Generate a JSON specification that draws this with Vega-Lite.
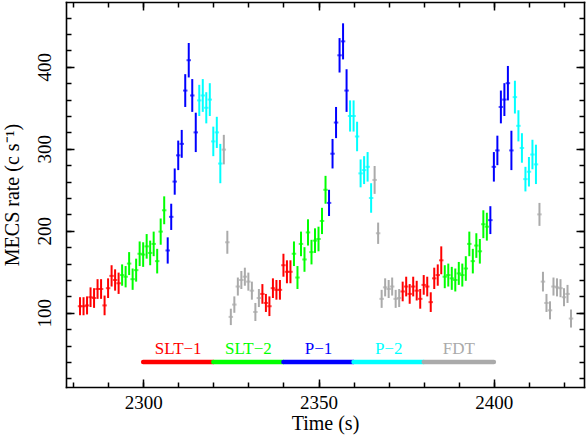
{
  "$schema": "https://vega.github.io/schema/vega-lite/v6.json",
  "width": 518,
  "height": 385,
  "autosize": {"type": "none"},
  "padding": {"left": 66, "top": 2, "right": 3, "bottom": 49},
  "config": {
    "view": {"stroke": null},
    "font": "Liberation Serif",
    "axis": {
      "grid": false,
      "domainColor": "black",
      "tickColor": "black",
      "labelColor": "black",
      "titleColor": "black",
      "labelFont": "Liberation Serif",
      "titleFont": "Liberation Serif",
      "titleFontWeight": "normal",
      "domainWidth": 1.6,
      "domainCap": "square",
      "tickWidth": 1.5,
      "labelOverlap": false,
      "labelFlush": false
    }
  },
  "datasets": {
    "pts": [
      {"t": 2282, "r": 108, "e": 11, "p": "SLT-1"}, {"t": 2283, "r": 108, "e": 11, "p": "SLT-1"}, {"t": 2284, "r": 109, "e": 11, "p": "SLT-1"},
      {"t": 2285, "r": 119, "e": 12, "p": "SLT-1"}, {"t": 2286, "r": 118, "e": 12, "p": "SLT-1"}, {"t": 2287, "r": 129, "e": 12, "p": "SLT-1"},
      {"t": 2288, "r": 129, "e": 12, "p": "SLT-1"}, {"t": 2289, "r": 109, "e": 12, "p": "SLT-1"}, {"t": 2290, "r": 130, "e": 12, "p": "SLT-1"},
      {"t": 2291, "r": 145, "e": 13, "p": "SLT-1"}, {"t": 2292, "r": 140, "e": 13, "p": "SLT-1"}, {"t": 2293, "r": 136, "e": 13, "p": "SLT-1"},
      {"t": 2294, "r": 146, "e": 13, "p": "SLT-2"}, {"t": 2295, "r": 144, "e": 13, "p": "SLT-2"}, {"t": 2296, "r": 160, "e": 14, "p": "SLT-2"},
      {"t": 2297, "r": 141, "e": 13, "p": "SLT-2"}, {"t": 2298, "r": 152, "e": 14, "p": "SLT-2"}, {"t": 2299, "r": 172, "e": 15, "p": "SLT-2"},
      {"t": 2300, "r": 171, "e": 15, "p": "SLT-2"}, {"t": 2301, "r": 181, "e": 15, "p": "SLT-2"}, {"t": 2302, "r": 173, "e": 15, "p": "SLT-2"},
      {"t": 2303, "r": 184, "e": 15, "p": "SLT-2"}, {"t": 2304, "r": 163, "e": 15, "p": "SLT-2"}, {"t": 2305, "r": 199, "e": 16, "p": "SLT-2"},
      {"t": 2306, "r": 225, "e": 17, "p": "SLT-2"},
      {"t": 2307, "r": 176, "e": 16, "p": "P-1"}, {"t": 2308, "r": 217, "e": 16, "p": "P-1"}, {"t": 2309, "r": 260, "e": 16, "p": "P-1"},
      {"t": 2310, "r": 292, "e": 18, "p": "P-1"}, {"t": 2311, "r": 306, "e": 17, "p": "P-1"}, {"t": 2312, "r": 371, "e": 20, "p": "P-1"},
      {"t": 2313, "r": 408, "e": 21, "p": "P-1"}, {"t": 2314, "r": 365, "e": 20, "p": "P-1"}, {"t": 2315, "r": 320, "e": 24, "p": "P-1"},
      {"t": 2316, "r": 359, "e": 19, "p": "P-2"}, {"t": 2317, "r": 365, "e": 20, "p": "P-2"}, {"t": 2318, "r": 350, "e": 19, "p": "P-2"},
      {"t": 2319, "r": 360, "e": 20, "p": "P-2"}, {"t": 2320, "r": 309, "e": 18, "p": "P-2"}, {"t": 2321, "r": 320, "e": 19, "p": "P-2"},
      {"t": 2322, "r": 282, "e": 24, "p": "P-2"},
      {"t": 2323, "r": 299, "e": 18, "p": "FDT"}, {"t": 2324, "r": 186, "e": 14, "p": "FDT"}, {"t": 2325, "r": 95, "e": 10, "p": "FDT"},
      {"t": 2326, "r": 110, "e": 10, "p": "FDT"}, {"t": 2327, "r": 132, "e": 11, "p": "FDT"}, {"t": 2328, "r": 140, "e": 11, "p": "FDT"},
      {"t": 2329, "r": 144, "e": 11, "p": "FDT"}, {"t": 2330, "r": 138, "e": 11, "p": "FDT"}, {"t": 2331, "r": 127, "e": 11, "p": "FDT"},
      {"t": 2332, "r": 101, "e": 11, "p": "FDT"}, {"t": 2333, "r": 118, "e": 11, "p": "FDT"},
      {"t": 2334, "r": 123, "e": 12, "p": "SLT-1"}, {"t": 2335, "r": 112, "e": 11, "p": "SLT-1"}, {"t": 2336, "r": 108, "e": 12, "p": "SLT-1"},
      {"t": 2337, "r": 130, "e": 12, "p": "SLT-1"}, {"t": 2338, "r": 128, "e": 12, "p": "SLT-1"}, {"t": 2339, "r": 128, "e": 12, "p": "SLT-1"},
      {"t": 2340, "r": 158, "e": 14, "p": "SLT-1"}, {"t": 2341, "r": 150, "e": 14, "p": "SLT-1"}, {"t": 2342, "r": 150, "e": 14, "p": "SLT-1"},
      {"t": 2343, "r": 172, "e": 15, "p": "SLT-2"}, {"t": 2344, "r": 143, "e": 14, "p": "SLT-2"}, {"t": 2345, "r": 184, "e": 15, "p": "SLT-2"},
      {"t": 2346, "r": 165, "e": 15, "p": "SLT-2"}, {"t": 2347, "r": 198, "e": 16, "p": "SLT-2"}, {"t": 2348, "r": 174, "e": 15, "p": "SLT-2"},
      {"t": 2349, "r": 188, "e": 15, "p": "SLT-2"}, {"t": 2350, "r": 190, "e": 15, "p": "SLT-2"}, {"t": 2351, "r": 212, "e": 16, "p": "SLT-2"},
      {"t": 2352, "r": 250, "e": 17, "p": "SLT-2"},
      {"t": 2353, "r": 234, "e": 16, "p": "P-1"}, {"t": 2354, "r": 294, "e": 18, "p": "P-1"}, {"t": 2355, "r": 332, "e": 19, "p": "P-1"},
      {"t": 2356, "r": 414, "e": 21, "p": "P-1"}, {"t": 2357, "r": 431, "e": 22, "p": "P-1"}, {"t": 2358, "r": 371, "e": 26, "p": "P-1"},
      {"t": 2359, "r": 340, "e": 19, "p": "P-2"}, {"t": 2360, "r": 340, "e": 19, "p": "P-2"}, {"t": 2361, "r": 315, "e": 18, "p": "P-2"},
      {"t": 2362, "r": 270, "e": 17, "p": "P-2"}, {"t": 2363, "r": 274, "e": 17, "p": "P-2"}, {"t": 2364, "r": 278, "e": 18, "p": "P-2"},
      {"t": 2365, "r": 240, "e": 18, "p": "P-2"},
      {"t": 2366, "r": 262, "e": 17, "p": "FDT"}, {"t": 2367, "r": 197, "e": 13, "p": "FDT"}, {"t": 2368, "r": 117, "e": 11, "p": "FDT"},
      {"t": 2369, "r": 131, "e": 11, "p": "FDT"}, {"t": 2370, "r": 129, "e": 11, "p": "FDT"}, {"t": 2371, "r": 132, "e": 11, "p": "FDT"},
      {"t": 2372, "r": 117, "e": 11, "p": "FDT"}, {"t": 2373, "r": 118, "e": 11, "p": "FDT"},
      {"t": 2374, "r": 126, "e": 12, "p": "SLT-1"}, {"t": 2375, "r": 132, "e": 12, "p": "SLT-1"}, {"t": 2376, "r": 123, "e": 12, "p": "SLT-1"},
      {"t": 2377, "r": 132, "e": 12, "p": "SLT-1"}, {"t": 2378, "r": 127, "e": 12, "p": "SLT-1"}, {"t": 2379, "r": 117, "e": 12, "p": "SLT-1"},
      {"t": 2380, "r": 134, "e": 12, "p": "SLT-1"}, {"t": 2381, "r": 132, "e": 12, "p": "SLT-1"}, {"t": 2382, "r": 113, "e": 12, "p": "SLT-1"},
      {"t": 2383, "r": 142, "e": 13, "p": "SLT-1"}, {"t": 2384, "r": 146, "e": 13, "p": "SLT-1"}, {"t": 2385, "r": 164, "e": 17, "p": "SLT-1"},
      {"t": 2386, "r": 144, "e": 14, "p": "SLT-2"}, {"t": 2387, "r": 146, "e": 14, "p": "SLT-2"}, {"t": 2388, "r": 142, "e": 14, "p": "SLT-2"},
      {"t": 2389, "r": 140, "e": 14, "p": "SLT-2"}, {"t": 2390, "r": 148, "e": 14, "p": "SLT-2"}, {"t": 2391, "r": 146, "e": 14, "p": "SLT-2"},
      {"t": 2392, "r": 154, "e": 15, "p": "SLT-2"}, {"t": 2393, "r": 184, "e": 15, "p": "SLT-2"}, {"t": 2394, "r": 163, "e": 15, "p": "SLT-2"},
      {"t": 2395, "r": 182, "e": 15, "p": "SLT-2"}, {"t": 2396, "r": 175, "e": 15, "p": "SLT-2"}, {"t": 2397, "r": 208, "e": 17, "p": "SLT-2"},
      {"t": 2398, "r": 205, "e": 17, "p": "SLT-2"},
      {"t": 2399, "r": 213, "e": 17, "p": "P-1"}, {"t": 2400, "r": 278, "e": 18, "p": "P-1"}, {"t": 2401, "r": 298, "e": 18, "p": "P-1"},
      {"t": 2402, "r": 351, "e": 20, "p": "P-1"}, {"t": 2403, "r": 360, "e": 20, "p": "P-1"}, {"t": 2404, "r": 380, "e": 21, "p": "P-1"},
      {"t": 2405, "r": 298, "e": 24, "p": "P-1"},
      {"t": 2406, "r": 363, "e": 20, "p": "P-2"}, {"t": 2407, "r": 328, "e": 19, "p": "P-2"}, {"t": 2408, "r": 301, "e": 18, "p": "P-2"},
      {"t": 2409, "r": 263, "e": 15, "p": "P-2"}, {"t": 2410, "r": 272, "e": 18, "p": "P-2"}, {"t": 2411, "r": 293, "e": 18, "p": "P-2"},
      {"t": 2412, "r": 281, "e": 24, "p": "P-2"},
      {"t": 2413, "r": 220, "e": 14, "p": "FDT"}, {"t": 2414, "r": 138, "e": 12, "p": "FDT"}, {"t": 2415, "r": 112, "e": 11, "p": "FDT"},
      {"t": 2416, "r": 103, "e": 11, "p": "FDT"}, {"t": 2417, "r": 132, "e": 11, "p": "FDT"}, {"t": 2418, "r": 131, "e": 11, "p": "FDT"},
      {"t": 2419, "r": 130, "e": 11, "p": "FDT"}, {"t": 2420, "r": 119, "e": 11, "p": "FDT"}, {"t": 2421, "r": 123, "e": 11, "p": "FDT"},
      {"t": 2422, "r": 93, "e": 11, "p": "FDT"}
    ],
    "phases": [
      {"p": "SLT-1", "label": "SLT−1", "start": 2300, "end": 2320, "mid": 2310},
      {"p": "SLT-2", "label": "SLT−2", "start": 2320, "end": 2340, "mid": 2330},
      {"p": "P-1", "label": "P−1", "start": 2340, "end": 2360, "mid": 2350},
      {"p": "P-2", "label": "P−2", "start": 2360, "end": 2380, "mid": 2370},
      {"p": "FDT", "label": "FDT", "start": 2380, "end": 2400, "mid": 2390}
    ]
  },
  "resolve": {
    "scale": {"x": "shared", "y": "shared", "color": "shared"},
    "axis": {"x": "independent", "y": "independent"}
  },
  "layer": [
    {
      "data": {"name": "pts"},
      "mark": {"type": "errorbar", "thickness": 2, "ticks": false},
      "encoding": {
        "x": {"field": "t", "type": "quantitative", "axis": null,
              "scale": {"domain": [2278, 2425.7], "nice": false, "zero": false}},
        "y": {"field": "r", "type": "quantitative", "axis": null,
              "scale": {"domain": [9.5, 479], "nice": false, "zero": false}},
        "yError": {"field": "e"},
        "color": {"field": "p", "type": "nominal", "legend": null,
                  "scale": {"domain": ["SLT-1", "SLT-2", "P-1", "P-2", "FDT"],
                            "range": ["#ff0000", "#00ff00", "#0000ff", "#00ffff", "#aaaaaa"]}}
      }
    },
    {
      "data": {"name": "pts"},
      "mark": {"type": "tick", "orient": "horizontal", "size": 4.5, "thickness": 2},
      "encoding": {
        "x": {"field": "t", "type": "quantitative",
              "axis": {"orient": "bottom", "values": [2280, 2290, 2300, 2310, 2320, 2330, 2340, 2350, 2360, 2370, 2380, 2390, 2400, 2410, 2420],
                       "tickSize": -5, "labels": false, "domain": false, "title": null}},
        "y": {"field": "r", "type": "quantitative",
              "axis": {"orient": "left", "values": [20, 40, 60, 80, 100, 120, 140, 160, 180, 200, 220, 240, 260, 280, 300, 320, 340, 360, 380, 400, 420, 440, 460],
                       "tickSize": -5, "labels": false, "domain": false, "title": null}},
        "color": {"field": "p", "type": "nominal", "legend": null}
      }
    },
    {
      "data": {"name": "phases"},
      "mark": {"type": "rule", "strokeWidth": 4.5, "strokeCap": "round"},
      "encoding": {
        "x": {"field": "start", "type": "quantitative",
              "axis": {"orient": "bottom", "values": [2300, 2350, 2400], "format": "d", "tickSize": -8,
                       "labelPadding": 29, "labelFontSize": 19, "labelBaseline": "alphabetic", "labelAlign": "center", "labelAngle": 0,
                       "title": "Time (s)", "titleFontSize": 20, "titleBaseline": "alphabetic", "titleY": 42, "titleX": 259}},
        "x2": {"field": "end"},
        "y": {"datum": 40, "type": "quantitative",
              "axis": {"orient": "left", "values": [100, 200, 300, 400], "format": "d", "tickSize": -8,
                       "labelPadding": 24, "labelFontSize": 19, "labelAngle": -90, "labelAlign": "center", "labelBaseline": "alphabetic",
                       "title": "MECS rate (c s⁻¹)", "titleFontSize": 20, "titleAngle": -90, "titleAlign": "center", "titleBaseline": "alphabetic",
                       "titleX": -47.5, "titleY": 192.5}},
        "color": {"field": "p", "type": "nominal", "legend": null}
      }
    },
    {
      "data": {"name": "phases"},
      "mark": {"type": "text", "fontSize": 17, "align": "center", "baseline": "alphabetic", "font": "Liberation Serif"},
      "encoding": {
        "x": {"field": "mid", "type": "quantitative",
              "axis": {"orient": "top", "values": [2300, 2350, 2400], "tickSize": -8, "labels": false, "title": null}},
        "y": {"datum": 50, "type": "quantitative",
              "axis": {"orient": "right", "values": [100, 200, 300, 400], "tickSize": -8, "labels": false, "title": null}},
        "text": {"field": "label"},
        "color": {"field": "p", "type": "nominal", "legend": null}
      }
    },
    {
      "data": {"name": "phases"},
      "mark": {"type": "rule", "strokeWidth": 1, "opacity": 0},
      "encoding": {
        "x": {"field": "start", "type": "quantitative",
              "axis": {"orient": "top", "values": [2280, 2290, 2300, 2310, 2320, 2330, 2340, 2350, 2360, 2370, 2380, 2390, 2400, 2410, 2420],
                       "tickSize": -5, "labels": false, "domain": false, "title": null}},
        "x2": {"field": "end"},
        "y": {"datum": 40, "type": "quantitative",
              "axis": {"orient": "right", "values": [20, 40, 60, 80, 100, 120, 140, 160, 180, 200, 220, 240, 260, 280, 300, 320, 340, 360, 380, 400, 420, 440, 460],
                       "tickSize": -5, "labels": false, "domain": false, "title": null}},
        "color": {"field": "p", "type": "nominal", "legend": null}
      }
    }
  ]
}
